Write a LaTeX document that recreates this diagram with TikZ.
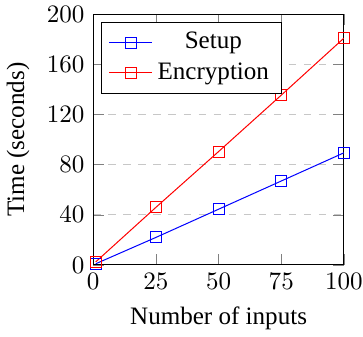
\documentclass[tikz,border=0pt]{standalone}
\usepackage{fontspec}
\setmainfont{Liberation Serif}
\usepackage{pgfplots}
\pgfplotsset{compat=1.18}
\usetikzlibrary{calc}

\begin{document}
\begin{tikzpicture}
  \begin{axis}[name=plot,
      scale only axis, width=100pt, height=100pt,
      xmin=0, xmax=100, ymin=0, ymax=200,
      xtick={0,25,...,100}, ytick={0,40,...,200},
      ymajorgrids, grid style={dashed, black!22},
      xlabel={Number of inputs}, ylabel={Time (seconds)},
      legend pos=north west, legend cell align=center,
      every axis plot/.append style={mark=square, mark size=2.2pt}]
    \addplot[blue] coordinates {(1,1) (25,22) (50,44.5) (75,67) (100,89.5)};
    \addplot[red] coordinates {(1,2.5) (25,46) (50,90.5) (75,135.5) (100,181)};
    \legend{Setup, Encryption}
  \end{axis}
  \pgfresetboundingbox
  \useasboundingbox ($(plot.south west)+(-37.2pt,-28.7pt)$) rectangle ($(plot.north east)+(7.6pt,5.7pt)$);
\end{tikzpicture}
\end{document}
